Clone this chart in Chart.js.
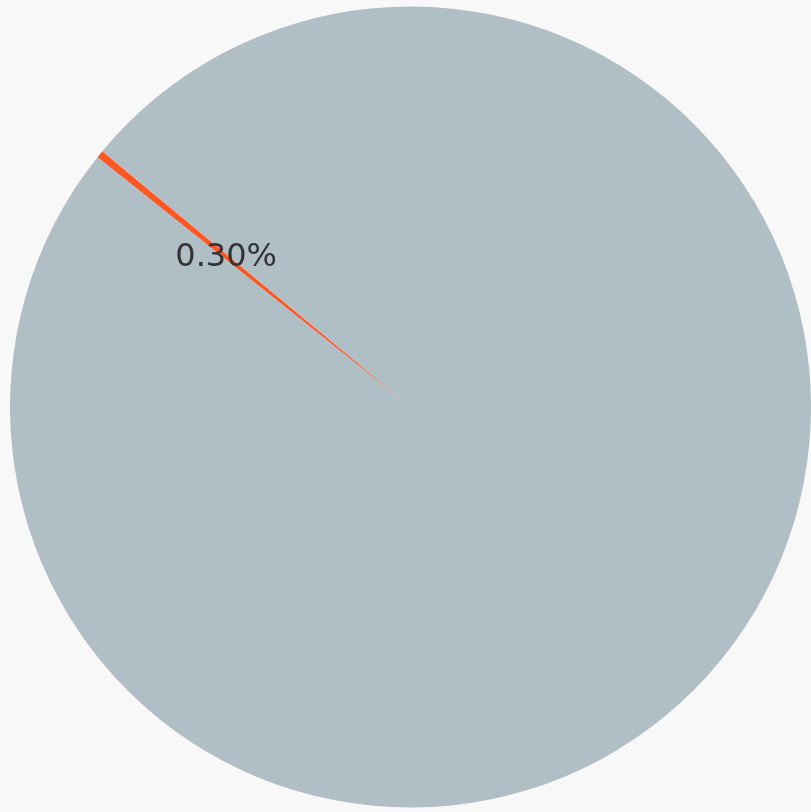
<!DOCTYPE html>
<html>
<head>
<meta charset="utf-8">
<script src="https://cdn.jsdelivr.net/npm/chart.js@4.4.1/dist/chart.umd.min.js"></script>
<style>
  html, body { margin: 0; padding: 0; background: #f8f8f8; }
  #wrap { width: 811px; height: 812px; }
</style>
</head>
<body>
<div id="wrap"><canvas id="pieChart" width="811" height="812"></canvas></div>
<script>
const labels = ["Share", "Rest"];
const values = [0.3, 99.7];
const colors = ["#FF5722", "#B0BEC5"];
const showLabel = [true, false];

// draws the percentage text inside the slices
const sliceLabels = {
  id: "sliceLabels",
  afterDatasetsDraw(chart) {
    const ctx = chart.ctx;
    const meta = chart.getDatasetMeta(0);
    const total = values.reduce((a, b) => a + b, 0);
    ctx.save();
    ctx.font = "32px 'DejaVu Sans'";
    ctx.fillStyle = "#333333";
    ctx.textAlign = "center";
    ctx.textBaseline = "middle";
    meta.data.forEach((arc, i) => {
      if (!showLabel[i]) return;
      const p = arc.getProps(["x", "y", "startAngle", "endAngle", "outerRadius"], true);
      const mid = (p.startAngle + p.endAngle) / 2;
      const r = p.outerRadius * 0.6;
      const text = ((values[i] / total) * 100).toFixed(2) + "%";
      ctx.fillText(text, p.x + Math.cos(mid) * r + 2, p.y + Math.sin(mid) * r + 2);
    });
    ctx.restore();
  },
};

new Chart(document.getElementById("pieChart"), {
  type: "pie",
  data: {
    labels: labels,
    datasets: [
      {
        data: values,
        backgroundColor: colors,
        borderWidth: 0,
      },
    ],
  },
  options: {
    responsive: false,
    animation: false,
    rotation: 308.6,
    layout: { padding: { left: 10, top: 6, right: 0, bottom: 4 } },
    plugins: {
      legend: { display: false },
      tooltip: { enabled: false },
    },
  },
  plugins: [sliceLabels],
});
</script>
</body>
</html>
